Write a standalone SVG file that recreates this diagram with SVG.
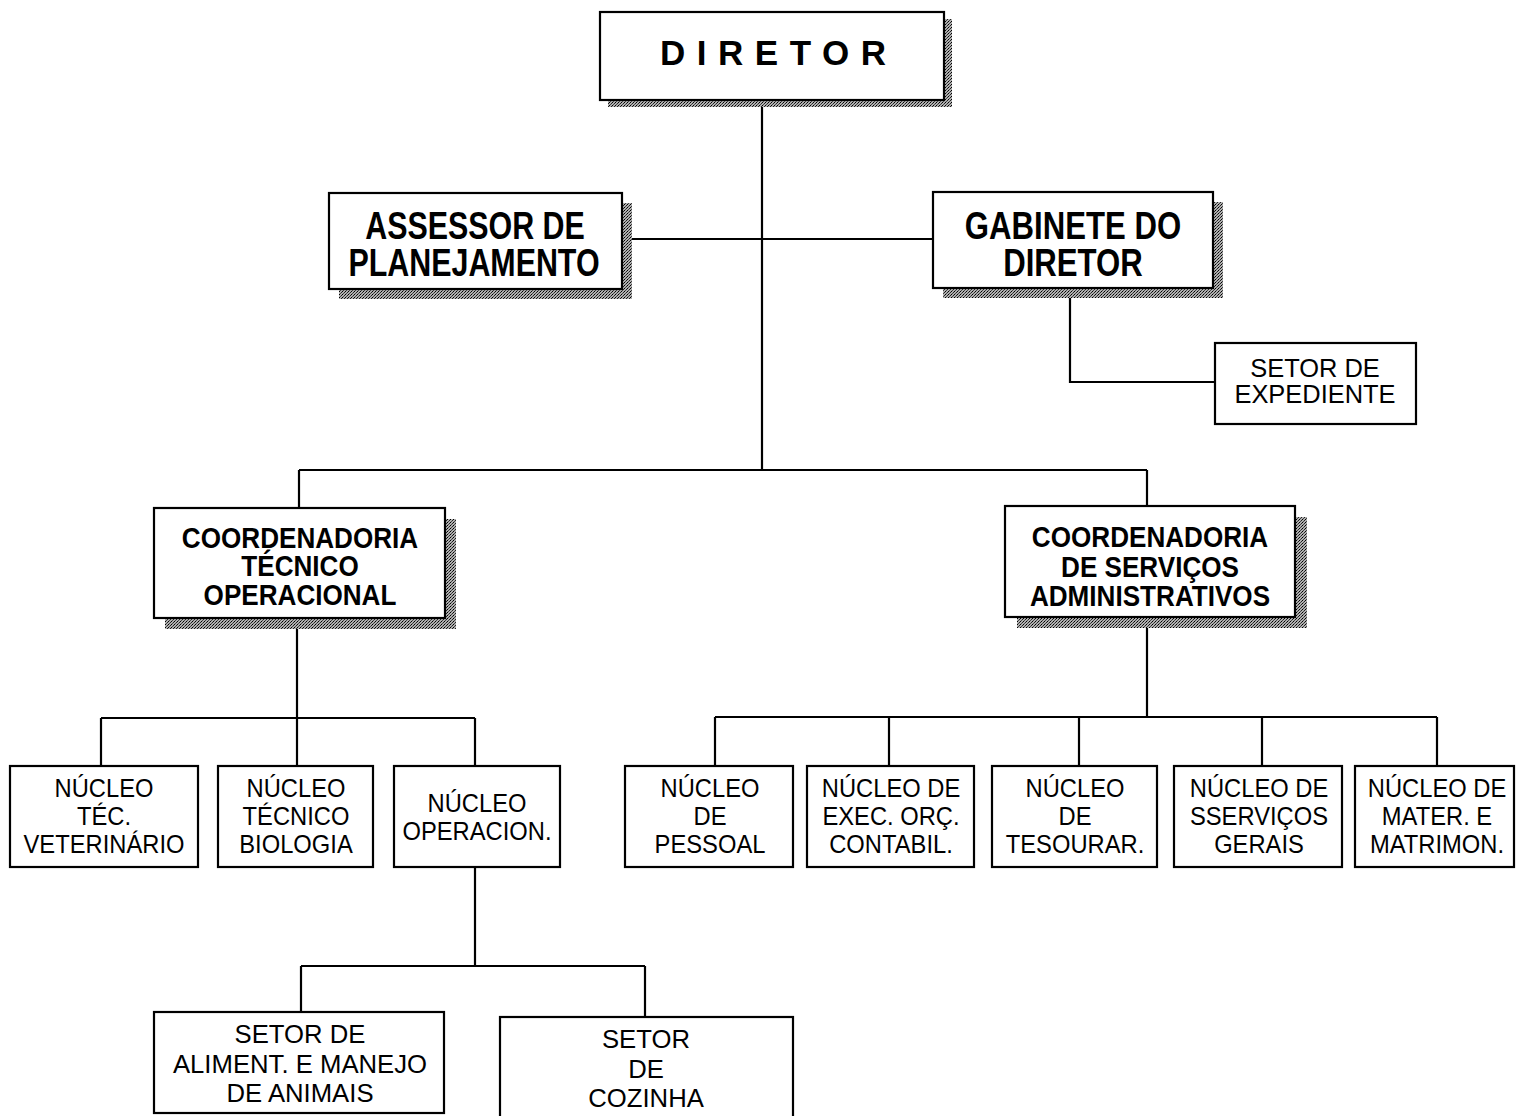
<svg xmlns="http://www.w3.org/2000/svg" width="1516" height="1116" viewBox="0 0 1516 1116">
<defs>
<pattern id="stip" width="3" height="3" patternUnits="userSpaceOnUse">
<rect width="3" height="3" fill="#b0b0b0"/>
<rect x="0" y="0" width="1" height="1" fill="#000"/>
<rect x="2" y="1" width="1" height="1" fill="#222"/>
<rect x="1" y="2" width="1" height="1" fill="#444"/>
</pattern>
</defs>
<style>
.bg{fill:#fff}
.box{fill:#fff;stroke:#000;stroke-width:2.2}
.sh{fill:url(#stip)}
.ln{fill:none;stroke:#000;stroke-width:2.2}
text{font-family:"Liberation Sans",Arial,Helvetica,sans-serif;fill:#000;text-anchor:middle}
.b1{font-size:38px;font-weight:bold}
.b2{font-size:29px;font-weight:bold}
.r1{font-size:25px}
.r2{font-size:26.5px}
</style>
<rect class="bg" x="0" y="0" width="1516" height="1116"/>

<g id="connectors">
<path class="ln" d="M762,100 V470"/>
<path class="ln" d="M299,470 H1147"/>
<path class="ln" d="M299,470 V508"/>
<path class="ln" d="M1147,470 V506"/>
<path class="ln" d="M622,239 H933"/>
<path class="ln" d="M1070,288 V382 H1215"/>
<path class="ln" d="M297,618 V766"/>
<path class="ln" d="M101,718 H475 M101,718 V766 M475,718 V766"/>
<path class="ln" d="M1147,617 V717 M715,717 H1437 M715,717 V766 M889,717 V766 M1079,717 V766 M1262,717 V766 M1437,717 V766"/>
<path class="ln" d="M475,867 V966 M301,966 H645 M301,966 V1012 M645,966 V1017"/>
</g>

<g id="diretor">
<rect class="sh" x="608" y="19" width="344" height="88"/>
<rect class="box" x="600" y="12" width="344" height="88"/>
<text x="773" y="65" style="font-size:35px;font-weight:bold" textLength="226" lengthAdjust="spacing">DIRETOR</text>
</g>

<g id="assessor">
<rect class="sh" x="339" y="203" width="293" height="96"/>
<rect class="box" x="329" y="193" width="293" height="96"/>
<text class="b1" transform="translate(475,0) scale(0.8,1)" x="0" y="239">ASSESSOR DE</text>
<text class="b1" transform="translate(474,0) scale(0.8,1)" x="0" y="276">PLANEJAMENTO</text>
</g>

<g id="gabinete">
<rect class="sh" x="943" y="202" width="280" height="96"/>
<rect class="box" x="933" y="192" width="280" height="96"/>
<text class="b1" transform="translate(1073,0) scale(0.82,1)" x="0" y="239">GABINETE DO</text>
<text class="b1" transform="translate(1073,0) scale(0.82,1)" x="0" y="276">DIRETOR</text>
</g>

<g id="setor-expediente">
<rect class="box" x="1215" y="343" width="201" height="81"/>
<text class="r2" transform="translate(1315,0) scale(0.96,1)" x="0" y="377">SETOR DE</text>
<text class="r2" transform="translate(1315,0) scale(0.96,1)" x="0" y="403">EXPEDIENTE</text>
</g>

<g id="coord-tecnico">
<rect class="sh" x="165" y="519" width="291" height="110"/>
<rect class="box" x="154" y="508" width="291" height="110"/>
<text class="b2" transform="translate(300,0) scale(0.9,1)" x="0" y="548">COORDENADORIA</text>
<text class="b2" transform="translate(300,0) scale(0.9,1)" x="0" y="576">TÉCNICO</text>
<text class="b2" transform="translate(300,0) scale(0.9,1)" x="0" y="605">OPERACIONAL</text>
</g>

<g id="coord-servicos">
<rect class="sh" x="1017" y="517" width="290" height="111"/>
<rect class="box" x="1005" y="506" width="290" height="111"/>
<text class="b2" transform="translate(1150,0) scale(0.9,1)" x="0" y="547">COORDENADORIA</text>
<text class="b2" transform="translate(1150,0) scale(0.9,1)" x="0" y="577">DE SERVIÇOS</text>
<text class="b2" transform="translate(1150,0) scale(0.9,1)" x="0" y="606">ADMINISTRATIVOS</text>
</g>

<g id="nucleo-veterinario">
<rect class="box" x="10" y="766" width="188" height="101"/>
<text class="r1" transform="translate(104,0) scale(0.95,1)" x="0" y="797">NÚCLEO</text>
<text class="r1" transform="translate(104,0) scale(0.95,1)" x="0" y="825">TÉC.</text>
<text class="r1" transform="translate(104,0) scale(0.95,1)" x="0" y="853">VETERINÁRIO</text>
</g>

<g id="nucleo-biologia">
<rect class="box" x="218" y="766" width="155" height="101"/>
<text class="r1" transform="translate(296,0) scale(0.95,1)" x="0" y="797">NÚCLEO</text>
<text class="r1" transform="translate(296,0) scale(0.95,1)" x="0" y="825">TÉCNICO</text>
<text class="r1" transform="translate(296,0) scale(0.95,1)" x="0" y="853">BIOLOGIA</text>
</g>

<g id="nucleo-operacional">
<rect class="box" x="394" y="766" width="166" height="101"/>
<text class="r1" transform="translate(477,0) scale(0.95,1)" x="0" y="812">NÚCLEO</text>
<text class="r1" transform="translate(477,0) scale(0.95,1)" x="0" y="840">OPERACION.</text>
</g>

<g id="nucleo-pessoal">
<rect class="box" x="625" y="766" width="168" height="101"/>
<text class="r1" transform="translate(710,0) scale(0.95,1)" x="0" y="797">NÚCLEO</text>
<text class="r1" transform="translate(710,0) scale(0.95,1)" x="0" y="825">DE</text>
<text class="r1" transform="translate(710,0) scale(0.95,1)" x="0" y="853">PESSOAL</text>
</g>

<g id="nucleo-exec">
<rect class="box" x="807" y="766" width="167" height="101"/>
<text class="r1" transform="translate(891,0) scale(0.95,1)" x="0" y="797">NÚCLEO DE</text>
<text class="r1" transform="translate(891,0) scale(0.95,1)" x="0" y="825">EXEC. ORÇ.</text>
<text class="r1" transform="translate(891,0) scale(0.95,1)" x="0" y="853">CONTABIL.</text>
</g>

<g id="nucleo-tesouraria">
<rect class="box" x="992" y="766" width="165" height="101"/>
<text class="r1" transform="translate(1075,0) scale(0.95,1)" x="0" y="797">NÚCLEO</text>
<text class="r1" transform="translate(1075,0) scale(0.95,1)" x="0" y="825">DE</text>
<text class="r1" transform="translate(1075,0) scale(0.95,1)" x="0" y="853">TESOURAR.</text>
</g>

<g id="nucleo-servicos">
<rect class="box" x="1174" y="766" width="168" height="101"/>
<text class="r1" transform="translate(1259,0) scale(0.95,1)" x="0" y="797">NÚCLEO DE</text>
<text class="r1" transform="translate(1259,0) scale(0.95,1)" x="0" y="825">SSERVIÇOS</text>
<text class="r1" transform="translate(1259,0) scale(0.95,1)" x="0" y="853">GERAIS</text>
</g>

<g id="nucleo-material">
<rect class="box" x="1355" y="766" width="159" height="101"/>
<text class="r1" transform="translate(1437,0) scale(0.95,1)" x="0" y="797">NÚCLEO DE</text>
<text class="r1" transform="translate(1437,0) scale(0.95,1)" x="0" y="825">MATER. E</text>
<text class="r1" transform="translate(1437,0) scale(0.95,1)" x="0" y="853">MATRIMON.</text>
</g>

<g id="setor-alimentacao">
<rect class="box" x="154" y="1012" width="290" height="101"/>
<text class="r2" transform="translate(300,0) scale(0.97,1)" x="0" y="1043">SETOR DE</text>
<text class="r2" transform="translate(300,0) scale(0.97,1)" x="0" y="1073">ALIMENT. E MANEJO</text>
<text class="r2" transform="translate(300,0) scale(0.97,1)" x="0" y="1102">DE ANIMAIS</text>
</g>

<g id="setor-cozinha">
<rect class="box" x="500" y="1017" width="293" height="110"/>
<text class="r2" transform="translate(646,0) scale(0.97,1)" x="0" y="1048">SETOR</text>
<text class="r2" transform="translate(646,0) scale(0.97,1)" x="0" y="1078">DE</text>
<text class="r2" transform="translate(646,0) scale(0.97,1)" x="0" y="1107">COZINHA</text>
</g>
</svg>
